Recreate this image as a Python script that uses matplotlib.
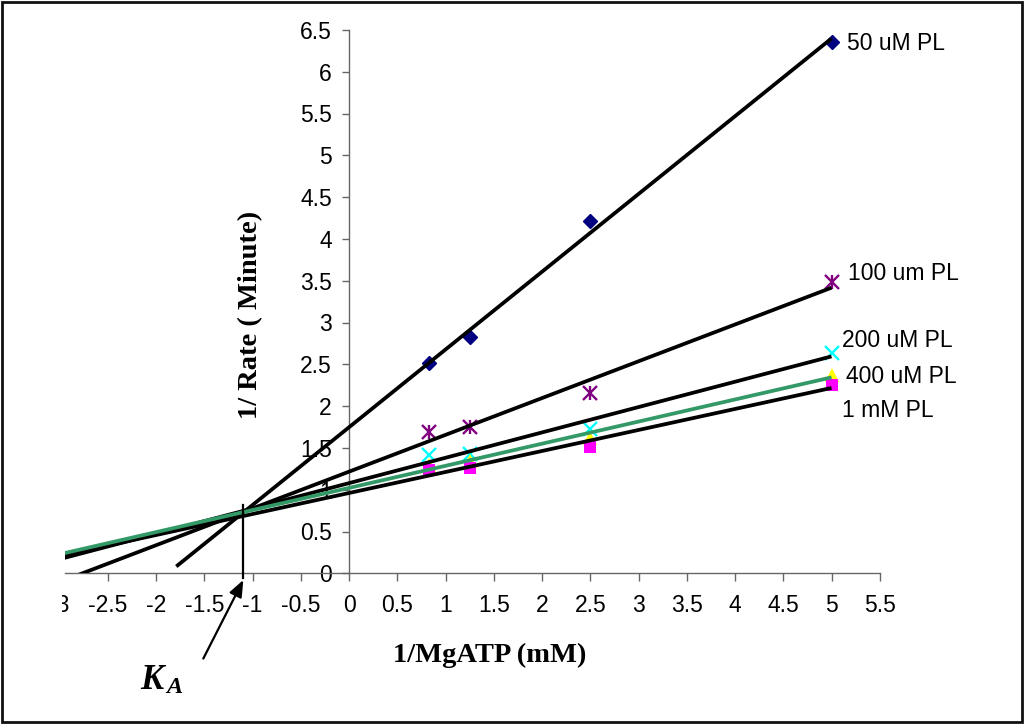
import numpy as np
import matplotlib
matplotlib.use("Agg")
import matplotlib.pyplot as plt
from matplotlib.patches import Rectangle
from matplotlib.transforms import Bbox, TransformedBbox

# ---------------- data ----------------
x_mgatp = [0.833, 1.25, 2.5, 5.0]
series_names = ["50 uM PL", "100 um PL", "200 uM PL", "400 uM PL", "1 mM PL"]
pl_50uM = [2.51, 2.83, 4.21, 6.35]
pl_100uM = [1.69, 1.75, 2.16, 3.48]
pl_200uM = [1.42, 1.43, 1.73, 2.64]
pl_400uM = [1.29, 1.34, 1.62, 2.37]
pl_1mM = [1.23, 1.26, 1.51, 2.25]
trend_start = [-1.79, -3.3, -3.3, -3.3, -3.3]   # backward forecast of trendlines
ka_x = -1.1
x_ticks = [i * 0.5 for i in range(-6, 12)]
y_ticks = [i * 0.5 for i in range(0, 14)]

W, H = 1028, 725
fig = plt.figure(figsize=(W / 100, H / 100), dpi=100)

def fx(px):
    return px / W

def fy(py):
    return 1 - py / H

X_MIN = -2.94
ax = fig.add_axes([fx(65.3), fy(573.3), fx(879.75) - fx(65.3), fy(29.9) - fy(573.3)])
ax.set_xlim(X_MIN, 5.5)
ax.set_ylim(0, 6.5)

all_series = [pl_50uM, pl_100uM, pl_200uM, pl_400uM, pl_1mM]
styles = [
    dict(marker="D", color="#000080", ms=7.5, mew=1),
    dict(marker="x", color="#800080", ms=9.5, mew=1.7),
    dict(marker="x", color="#00FFFF", ms=9.5, mew=1.7),
    dict(marker="^", color="#FFFF00", ms=9.5, mew=0),
    dict(marker="s", color="#FF00FF", ms=8, mew=0),
]
line_colors = ["black", "black", "black", "#339966", "black"]
line_z = [4, 4, 4, 6, 5]

for ys, st in zip(all_series, styles):
    ax.plot(x_mgatp, ys, linestyle="none", marker=st["marker"], color=st["color"],
            markersize=st["ms"], markeredgewidth=st["mew"], zorder=3)
# asterisk vertical stroke for 100 um series
ax.plot(x_mgatp, pl_100uM, linestyle="none", marker="|", color="#800080",
        markersize=10.5, markeredgewidth=1.7, zorder=3)

for ys, xs0, c, z in zip(all_series, trend_start, line_colors, line_z):
    k, b = np.polyfit(x_mgatp, ys, 1)
    xx = np.array([xs0, max(x_mgatp)])
    ax.plot(xx, k * xx + b, color=c, lw=2.7, zorder=z, solid_capstyle="butt")

# K_A marker line and arrow
ax.plot([ka_x, ka_x], [0.82, -0.06], color="black", lw=1.6, clip_on=False, zorder=7)
ax.annotate("", xy=(ka_x + 0.005, -0.08), xytext=(-1.51, -1.02),
            xycoords="data", textcoords="data", annotation_clip=False,
            arrowprops=dict(arrowstyle="-|>,head_length=1.0,head_width=0.4",
                            color="black", lw=1.6, shrinkA=0, shrinkB=0))

# spines
for s in ["top", "right"]:
    ax.spines[s].set_visible(False)
ax.spines["left"].set_position(("data", 0))
ax.spines["left"].set_color("#666666")
ax.spines["bottom"].set_color("#666666")
ax.spines["left"].set_linewidth(1)
ax.spines["bottom"].set_linewidth(1)

tick_font = dict(family="Liberation Sans", size=16.5)
vis_x = [t for t in x_ticks if t >= X_MIN]
ax.set_xticks(vis_x)
ax.set_xticklabels(["%g" % t for t in vis_x], **tick_font)
ax.set_yticks(y_ticks)
ax.set_yticklabels(["%g" % t for t in y_ticks], **tick_font)
ax.tick_params(axis="x", direction="out", length=5.8, width=1, color="#666666", pad=9)
ax.tick_params(axis="y", direction="out", length=5.4, width=1, color="#666666", pad=7)

# clipped "-3" label at the left edge (partly cut off as in the source)
x_pix_m3 = 65.3 + (x_ticks[0] - X_MIN) * (879.75 - 65.3) / (5.5 - X_MIN)
t3 = fig.text(fx(x_pix_m3), fy(573.3 + 8 + 12.5), "%g" % x_ticks[0],
              ha="center", va="top", **tick_font)
t3.set_clip_box(TransformedBbox(Bbox([[fx(62), 0], [1, 1]]), fig.transFigure))
t3.set_clip_on(True)

# axis titles
serif_b = dict(family="Liberation Serif", weight="bold", size=20.5)
fig.text(fx(393), fy(661.7), "1/MgATP (mM)", ha="left", va="baseline", **serif_b)
fig.text(fx(250.5), fy(315), "1/ Rate ( Minute)", ha="center", va="center",
         rotation=90, **serif_b)

# series labels
label_pos = [(847.3, 50), (848.3, 280), (841.7, 346.7), (845.7, 383.3), (841.7, 416.7)]
for name, (px, py) in zip(series_names, label_pos):
    fig.text(fx(px), fy(py), name, ha="left", va="baseline",
             family="Liberation Sans", size=16.5)

# K_A label
fig.text(fx(140), fy(689), "K", ha="left", va="baseline", family="Liberation Serif",
         weight="bold", style="italic", size=25)
fig.text(fx(166), fy(693), "A", ha="left", va="baseline", family="Liberation Serif",
         weight="bold", style="italic", size=17.5)

# outer border
fig.patches.append(Rectangle((fx(2), fy(722)), fx(1022) - fx(2), fy(2) - fy(722),
                             transform=fig.transFigure, fill=False, edgecolor="#111111",
                             lw=2, zorder=10))

fig.savefig("out.png", dpi=100)
